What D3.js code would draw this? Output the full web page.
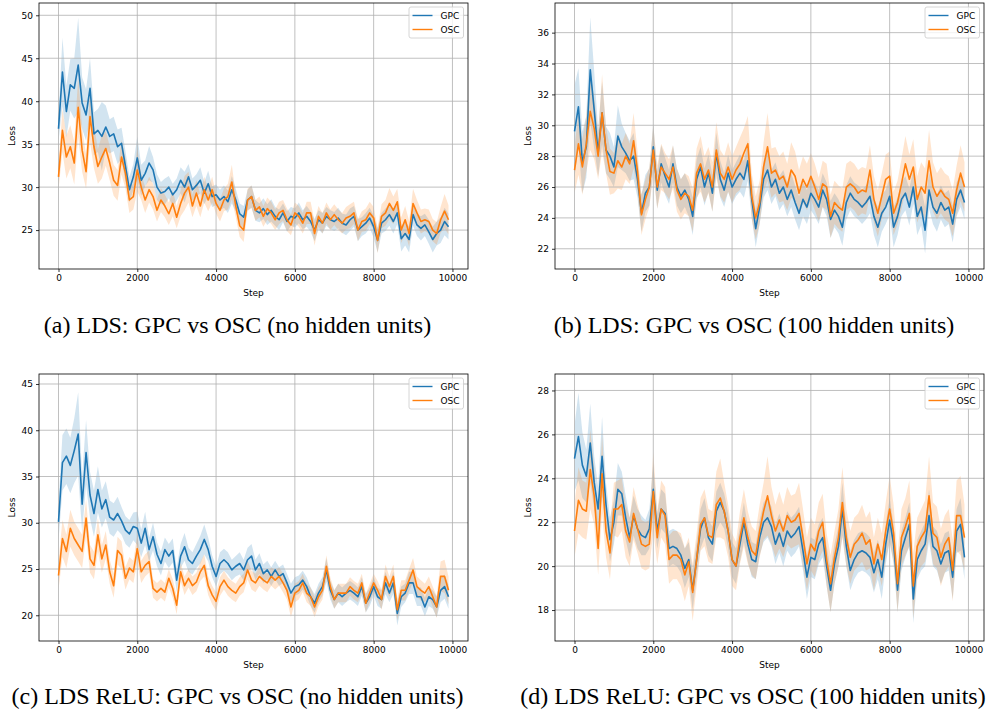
<!DOCTYPE html>
<html>
<head>
<meta charset="utf-8">
<script src="https://cdn.jsdelivr.net/npm/d3@7"></script>
<style>
  body { margin: 0; background: #fff; }
  svg { display: block; }
  .tick text { font-family: "DejaVu Sans", sans-serif; font-size: 9px; fill: #000; }
  .lbl { font-family: "DejaVu Sans", sans-serif; font-size: 9px; fill: #000; }
  .caption { font-family: "Liberation Serif", "Times New Roman", serif; font-size: 24px; fill: #000; }
</style>
</head>
<body>
<svg id="chart" width="986" height="713"></svg>
<script>
// x positions of the samples (one every 100 steps)
const steps = d3.range(0, 10000, 100);
const seriesNames = ["GPC", "OSC"];
const xTicks = [0, 2000, 4000, 6000, 8000, 10000];

// (a) LDS, no hidden units
const gpcA = [
  36.8, 43.4, 38.8, 41.9, 41.5, 44.2, 39.8, 38.4, 41.5, 36.2,
  36.6, 35.9, 37.0, 35.9, 36.2, 34.7, 35.1, 32.4, 29.7, 31.2,
  33.4, 30.8, 31.6, 32.8, 32.0, 30.0, 29.3, 29.5, 30.0, 29.1,
  29.7, 30.8, 30.0, 31.2, 29.7, 30.2, 30.8, 29.3, 30.4, 28.9,
  29.1, 28.5, 28.9, 28.3, 29.7, 28.5, 26.9, 26.5, 28.5, 28.9,
  27.3, 27.0, 27.5, 26.8, 27.3, 26.6, 26.2, 27.0, 26.0, 26.6,
  26.4, 27.0, 26.2, 26.6, 26.0, 25.0, 26.2, 25.8, 26.6, 26.2,
  26.0, 26.4, 25.8, 25.6, 26.2, 26.6, 25.0, 25.4, 25.8, 26.4,
  25.4, 23.8, 25.8, 26.2, 26.8, 26.0, 27.0, 24.0, 24.6, 23.9,
  26.8, 25.6, 25.2, 25.6, 24.8, 23.9, 24.6, 25.0, 26.0, 25.4
];
const oscA = [
  31.2, 36.6, 33.5, 34.7, 32.8, 39.3, 34.3, 31.8, 38.2, 34.7,
  32.4, 33.5, 34.5, 32.8, 30.8, 30.2, 33.5, 31.6, 28.5, 28.9,
  32.0, 30.0, 28.5, 29.7, 28.9, 27.3, 28.5, 27.8, 26.9, 28.1,
  26.5, 28.1, 29.3, 30.0, 27.8, 29.3, 27.8, 29.7, 28.5, 29.7,
  28.1, 27.3, 28.5, 28.9, 30.6, 27.8, 25.5, 25.0, 28.5, 28.9,
  27.3, 27.7, 26.6, 27.5, 27.0, 26.2, 27.0, 27.3, 26.2, 25.6,
  27.0, 26.6, 25.8, 27.0, 27.0, 24.6, 26.6, 25.8, 27.0, 26.2,
  26.8, 26.2, 25.8, 26.4, 26.6, 27.0, 25.0, 26.0, 26.2, 27.0,
  26.4, 23.8, 26.6, 27.0, 28.1, 27.3, 28.3, 25.0, 26.2, 24.6,
  28.1, 27.0, 26.0, 26.2, 26.0, 25.0, 24.6, 26.2, 27.2, 26.2
];
const gpcSdA = [
  1.5, 4.0, 3.0, 3.0, 3.5, 5.5, 3.0, 3.0, 3.5, 2.5,
  2.5, 4.0, 2.5, 2.0, 2.0, 2.0, 1.8, 1.8, 1.5, 1.5,
  2.5, 1.8, 1.5, 2.0, 1.5, 1.5, 1.3, 1.5, 1.3, 1.3,
  1.3, 1.5, 1.8, 1.5, 1.3, 1.3, 1.5, 1.3, 1.5, 1.2,
  1.2, 1.2, 1.3, 1.3, 1.6, 1.3, 1.2, 1.3, 1.2, 1.3,
  1.2, 1.1, 1.2, 1.2, 1.3, 1.1, 1.2, 1.1, 1.2, 1.1,
  1.1, 1.2, 1.1, 1.2, 1.2, 1.3, 1.1, 1.2, 1.1, 1.1,
  1.1, 1.2, 1.1, 1.2, 1.3, 1.2, 1.3, 1.1, 1.2, 1.2,
  1.3, 1.4, 1.2, 1.3, 1.3, 1.4, 1.3, 1.5, 1.4, 1.5,
  1.3, 1.3, 1.4, 1.3, 1.4, 1.5, 1.4, 1.5, 1.6, 1.5
];
const oscSdA = [
  1.5, 2.5, 2.5, 2.5, 2.5, 3.5, 2.5, 2.0, 3.0, 2.5,
  2.0, 2.5, 2.0, 2.0, 1.8, 1.8, 2.0, 1.8, 1.5, 1.5,
  2.5, 1.5, 1.5, 1.5, 1.5, 1.3, 1.4, 1.3, 1.3, 1.5,
  1.3, 1.5, 2.0, 1.8, 1.3, 1.5, 1.3, 1.5, 1.3, 1.5,
  1.2, 1.3, 1.3, 1.5, 2.0, 1.3, 1.3, 1.4, 1.3, 1.3,
  1.2, 1.2, 1.2, 1.3, 1.3, 1.2, 1.3, 1.2, 1.3, 1.2,
  1.2, 1.2, 1.2, 1.3, 1.3, 1.4, 1.2, 1.2, 1.2, 1.2,
  1.2, 1.2, 1.2, 1.3, 1.4, 1.3, 1.3, 1.2, 1.3, 1.3,
  1.3, 1.5, 1.4, 1.5, 1.8, 1.6, 1.5, 1.5, 1.6, 1.5,
  1.7, 1.5, 1.4, 1.3, 1.4, 1.3, 1.3, 1.5, 2.0, 1.7
];

// (b) LDS, 100 hidden units
const gpcB = [
  29.6, 31.2, 27.6, 28.6, 33.6, 31.0, 28.2, 30.8, 28.4, 28.0,
  27.3, 29.3, 28.6, 28.2, 27.7, 28.0, 26.5, 24.3, 25.6, 26.0,
  28.6, 25.8, 27.5, 26.7, 26.0, 27.5, 26.0, 25.4, 25.8, 25.2,
  24.1, 26.5, 27.3, 26.0, 26.9, 25.6, 28.2, 26.5, 25.8, 26.9,
  26.0, 26.5, 26.9, 26.5, 27.7, 25.2, 23.3, 24.7, 26.5, 27.1,
  26.0, 26.5, 25.6, 26.0, 25.2, 25.8, 25.0, 24.3, 25.2, 24.7,
  25.6, 25.2, 24.7, 25.8, 25.2, 23.9, 24.5, 24.1, 23.4, 25.0,
  25.6, 25.2, 25.0, 24.7, 25.0, 25.4, 24.1, 23.4, 24.3, 24.7,
  25.4, 23.4, 24.1, 25.2, 25.6, 24.7, 26.0, 24.1, 24.7, 23.2,
  25.8, 24.7, 24.3, 25.0, 24.5, 24.7, 23.6, 25.2, 25.8, 25.0
];
const oscB = [
  27.1, 28.8, 27.3, 28.8, 30.9, 29.8, 28.0, 30.8, 28.4, 27.0,
  26.9, 27.7, 27.3, 28.0, 27.5, 29.0, 27.0, 24.2, 25.2, 26.0,
  28.4, 26.0, 27.3, 26.9, 26.5, 27.3, 25.8, 25.2, 25.6, 25.4,
  24.5, 26.9, 27.5, 26.5, 27.1, 26.0, 28.4, 26.9, 26.5, 27.3,
  26.5, 27.1, 27.5, 28.2, 28.8, 25.4, 24.0, 25.0, 27.3, 28.6,
  26.9, 27.1, 26.5, 26.7, 26.0, 27.1, 26.7, 25.6, 26.5, 26.0,
  26.7, 26.0, 25.2, 26.2, 26.0, 24.1, 25.0, 24.7, 24.5, 26.0,
  26.2, 26.0, 25.6, 25.8, 25.7, 27.1, 25.2, 24.3, 25.4, 26.5,
  26.7, 24.3, 25.0, 26.2, 27.5, 26.5, 27.3, 25.2, 26.0, 25.6,
  27.7, 26.0, 25.4, 25.8, 25.4, 25.2, 24.3, 25.8, 26.9, 26.0
];
const gpcSdB = [
  3.0, 2.5, 2.0, 2.0, 3.4, 2.5, 1.5, 2.0, 1.5, 1.5,
  1.3, 2.0, 1.5, 1.3, 1.3, 1.5, 1.2, 1.2, 1.2, 1.2,
  1.5, 1.2, 1.2, 1.2, 1.1, 1.2, 1.2, 1.1, 1.1, 1.1,
  1.2, 1.3, 1.3, 1.2, 1.2, 1.2, 1.3, 1.2, 1.1, 1.2,
  1.1, 1.1, 1.2, 1.2, 1.3, 1.2, 1.2, 1.1, 1.2, 1.3,
  1.1, 1.1, 1.1, 1.1, 1.1, 1.1, 1.1, 1.1, 1.1, 1.1,
  1.1, 1.1, 1.1, 1.1, 1.1, 1.2, 1.1, 1.1, 1.2, 1.1,
  1.1, 1.1, 1.1, 1.1, 1.1, 1.1, 1.2, 1.3, 1.2, 1.1,
  1.2, 1.3, 1.2, 1.1, 1.1, 1.2, 1.1, 1.2, 1.2, 1.5,
  1.2, 1.1, 1.2, 1.1, 1.1, 1.1, 1.2, 1.1, 1.1, 1.1
];
const oscSdB = [
  1.5, 2.0, 1.8, 1.8, 2.5, 2.0, 1.5, 2.5, 1.5, 1.5,
  1.3, 1.8, 1.5, 1.5, 1.3, 1.8, 1.3, 1.3, 1.3, 1.3,
  1.6, 1.4, 1.5, 1.3, 1.3, 1.4, 1.4, 1.3, 1.3, 1.3,
  1.4, 1.6, 1.8, 1.5, 1.5, 1.6, 1.8, 1.5, 1.5, 1.6,
  1.5, 1.5, 1.7, 1.6, 1.8, 1.5, 1.4, 1.4, 1.6, 2.2,
  1.6, 1.5, 1.5, 1.6, 1.5, 1.8, 1.6, 1.5, 1.5, 1.5,
  1.5, 1.5, 1.4, 1.5, 1.5, 1.4, 1.4, 1.4, 1.4, 1.5,
  1.5, 1.5, 1.5, 1.5, 1.5, 1.6, 1.5, 1.5, 1.5, 1.6,
  1.6, 1.4, 1.4, 1.6, 1.8, 1.6, 1.8, 1.5, 1.6, 1.6,
  2.0, 1.6, 1.5, 1.5, 1.5, 1.5, 1.5, 1.6, 1.8, 1.6
];

// (c) LDS ReLU, no hidden units
const gpcC = [
  30.1, 36.5, 37.2, 36.2, 37.8, 39.6, 32.0, 37.6, 33.0, 31.0,
  33.6, 31.5, 32.5, 30.6, 30.3, 31.0, 30.2, 29.2, 28.8, 29.6,
  29.4, 27.8, 29.4, 27.1, 28.5, 26.6, 25.6, 27.1, 26.4, 27.0,
  23.8, 26.4, 27.4, 26.0, 25.6, 26.4, 27.1, 28.2, 27.1, 25.3,
  24.2, 25.6, 26.0, 25.6, 24.9, 25.3, 25.6, 24.9, 26.0, 26.4,
  24.9, 25.6, 24.5, 24.9, 24.2, 24.9, 24.2, 24.5, 23.5, 22.4,
  23.1, 23.3, 23.8, 23.1, 22.0, 21.3, 22.4, 23.1, 24.9, 22.7,
  21.7, 22.4, 22.0, 22.4, 22.7, 22.4, 22.0, 23.1, 21.3, 22.0,
  23.1, 22.0, 21.7, 23.5, 22.4, 23.5, 20.2, 22.0, 22.4, 23.5,
  23.5, 22.0, 22.0, 20.9, 22.0, 21.7, 20.9, 22.7, 23.1, 22.0
];
const oscC = [
  24.3, 28.3, 26.9, 29.4, 28.3, 27.6, 26.9, 30.5, 26.1, 25.4,
  28.7, 26.1, 27.6, 24.7, 23.2, 27.0, 26.5, 24.0, 25.1, 24.7,
  27.2, 24.7, 25.4, 25.8, 22.9, 22.5, 22.9, 22.5, 24.0, 22.9,
  21.1, 24.7, 23.2, 24.0, 23.2, 23.6, 24.7, 25.4, 23.2, 22.2,
  21.5, 23.1, 23.8, 23.1, 22.7, 22.4, 23.1, 23.5, 24.9, 23.8,
  23.5, 24.2, 23.8, 23.5, 24.2, 23.8, 24.2, 23.5, 22.7, 20.9,
  22.4, 22.7, 23.5, 22.4, 22.0, 20.9, 22.0, 22.7, 25.3, 23.1,
  21.7, 22.4, 22.4, 22.4, 23.1, 22.7, 22.4, 23.5, 21.3, 22.4,
  23.5, 22.7, 21.7, 24.2, 23.1, 24.2, 20.6, 22.7, 22.7, 23.8,
  24.9, 23.1, 22.7, 22.4, 23.1, 22.0, 20.9, 24.2, 24.2, 22.7
];
const gpcSdC = [
  2.0, 3.0, 3.0, 3.0, 3.5, 4.5, 3.0, 3.5, 2.5, 2.5,
  2.5, 2.0, 2.0, 1.8, 1.8, 1.8, 1.5, 1.5, 1.5, 1.5,
  1.8, 1.5, 1.8, 1.3, 1.5, 1.3, 1.3, 1.3, 1.3, 1.3,
  1.3, 1.3, 1.5, 1.3, 1.2, 1.3, 1.5, 1.6, 1.3, 1.2,
  1.1, 1.2, 1.2, 1.2, 1.1, 1.1, 1.2, 1.1, 1.3, 1.3,
  1.1, 1.1, 1.0, 1.0, 1.0, 1.0, 1.0, 1.0, 1.0, 1.0,
  1.0, 1.0, 1.0, 1.0, 1.0, 1.0, 1.0, 1.0, 1.3, 1.0,
  1.0, 1.0, 1.0, 1.0, 1.0, 1.0, 1.0, 1.0, 1.0, 1.0,
  1.0, 1.0, 1.0, 1.2, 1.0, 1.2, 1.3, 1.1, 1.0, 1.2,
  1.2, 1.0, 1.0, 1.0, 1.0, 1.0, 1.1, 1.3, 1.3, 1.3
];
const oscSdC = [
  1.5, 2.0, 1.8, 2.0, 1.8, 1.8, 1.8, 2.0, 1.5, 1.5,
  1.8, 1.5, 1.5, 1.3, 1.3, 1.5, 1.5, 1.2, 1.2, 1.2,
  1.5, 1.2, 1.2, 1.2, 1.0, 1.0, 1.0, 1.0, 1.0, 1.0,
  1.0, 1.0, 1.0, 1.0, 1.0, 1.0, 1.0, 1.2, 1.0, 1.0,
  1.0, 1.0, 1.0, 1.0, 1.0, 1.0, 1.0, 1.0, 1.0, 1.0,
  1.0, 1.0, 1.0, 1.0, 1.0, 1.0, 1.0, 1.0, 1.0, 1.1,
  1.0, 1.0, 1.0, 1.0, 1.0, 1.1, 1.0, 1.0, 1.2, 1.0,
  1.0, 1.0, 1.0, 1.0, 1.0, 1.0, 1.0, 1.0, 1.0, 1.0,
  1.0, 1.0, 1.1, 1.3, 1.1, 1.3, 1.2, 1.1, 1.1, 1.2,
  1.3, 1.1, 1.1, 1.0, 1.1, 1.1, 1.2, 1.6, 1.8, 1.5
];

// (d) LDS ReLU, 100 hidden units
const gpcD = [
  24.9, 25.9, 24.6, 24.1, 25.6, 23.8, 22.6, 25.0, 22.8, 21.2,
  22.0, 23.5, 23.3, 22.2, 21.3, 22.3, 21.7, 21.4, 21.3, 21.7,
  23.5, 21.6, 22.6, 22.4, 20.8, 20.9, 20.8, 20.5, 19.9, 20.3,
  18.9, 20.3, 21.7, 22.2, 21.3, 21.0, 22.5, 22.9, 22.5, 21.6,
  20.3, 20.0, 21.0, 22.0, 21.0, 20.3, 20.2, 21.3, 22.0, 22.2,
  21.8, 21.0, 21.5, 20.9, 21.6, 21.3, 21.5, 21.8, 20.7, 19.5,
  20.4, 20.3, 21.0, 21.3, 20.0, 18.9, 20.1, 20.9, 22.6, 20.9,
  19.8, 20.3, 20.6, 20.7, 20.6, 20.4, 19.7, 20.3, 19.5, 21.0,
  22.1, 21.0, 18.9, 20.7, 21.3, 21.9, 18.5, 20.3, 20.7, 21.0,
  22.3, 20.9, 20.7, 20.1, 20.6, 20.7, 19.5, 21.6, 21.9, 20.4
];
const oscD = [
  21.6, 23.0, 22.6, 22.5, 24.4, 23.2, 20.8, 24.2, 21.6, 20.6,
  22.6, 22.6, 22.8, 21.6, 21.1, 22.4, 21.7, 21.0, 20.9, 21.0,
  23.4, 21.3, 22.6, 22.3, 20.3, 20.5, 20.5, 20.3, 19.6, 20.2,
  18.8, 20.3, 21.9, 22.2, 21.4, 21.3, 22.8, 23.1, 22.5, 21.6,
  20.3, 20.0, 21.3, 22.2, 21.3, 20.7, 20.5, 21.6, 22.5, 23.2,
  22.3, 21.6, 22.1, 21.6, 22.3, 22.0, 22.1, 22.4, 21.3, 20.1,
  21.0, 20.7, 21.6, 22.0, 20.3, 19.2, 20.4, 21.3, 22.9, 21.3,
  20.4, 21.0, 21.2, 21.5, 21.0, 21.2, 20.1, 21.0, 20.3, 21.6,
  22.6, 21.5, 19.2, 21.3, 21.8, 22.4, 19.1, 20.9, 21.3, 21.6,
  23.2, 21.5, 21.3, 20.4, 21.0, 21.3, 19.8, 22.3, 22.3, 21.3
];
const gpcSdD = [
  1.5, 2.0, 1.5, 1.2, 1.8, 1.2, 1.0, 1.8, 1.0, 1.0,
  1.0, 1.2, 1.0, 1.0, 0.9, 0.9, 0.9, 0.9, 0.8, 0.9,
  1.2, 0.8, 0.9, 0.9, 0.8, 0.8, 0.8, 0.8, 0.9, 0.8,
  0.9, 0.8, 0.9, 0.9, 0.8, 0.8, 0.9, 0.9, 0.8, 0.8,
  0.8, 0.8, 0.8, 0.9, 0.8, 0.8, 0.8, 0.8, 0.9, 0.9,
  0.9, 0.9, 0.9, 0.9, 0.9, 0.9, 0.9, 0.9, 0.9, 1.0,
  0.9, 0.9, 0.9, 0.9, 0.9, 1.0, 0.9, 0.9, 1.2, 0.9,
  0.9, 0.9, 0.9, 0.9, 0.9, 0.9, 0.9, 0.9, 1.0, 0.9,
  1.0, 0.9, 1.0, 0.9, 0.9, 1.0, 1.1, 0.9, 0.9, 1.0,
  1.2, 0.9, 0.9, 0.9, 0.9, 0.9, 1.0, 1.0, 1.2, 1.0
];
const oscSdD = [
  1.2, 1.5, 1.3, 1.3, 1.8, 1.3, 1.2, 1.8, 1.2, 1.2,
  1.2, 1.3, 1.2, 1.2, 1.1, 1.2, 1.1, 1.1, 1.1, 1.1,
  1.8, 1.2, 1.3, 1.3, 1.1, 1.1, 1.1, 1.2, 1.2, 1.1,
  1.3, 1.2, 1.2, 1.3, 1.2, 1.2, 1.5, 1.8, 1.3, 1.2,
  1.2, 1.1, 1.2, 1.3, 1.2, 1.1, 1.1, 1.2, 1.3, 1.8,
  1.3, 1.2, 1.3, 1.2, 1.3, 1.2, 1.2, 1.4, 1.3, 1.2,
  1.2, 1.2, 1.3, 1.3, 1.2, 1.3, 1.2, 1.3, 1.6, 1.3,
  1.2, 1.2, 1.2, 1.3, 1.2, 1.3, 1.2, 1.2, 1.2, 1.3,
  1.5, 1.3, 1.3, 1.3, 1.3, 1.5, 1.5, 1.3, 1.3, 1.4,
  1.8, 1.4, 1.4, 1.3, 1.3, 1.3, 1.4, 1.6, 1.8, 1.5
];

const colors = ["#1f77b4", "#ff7f0e"];

// layout of the four subplots (pixel boxes of the axes frames)
const panels = [
  { caption: "(a) LDS: GPC vs OSC (no hidden units)", means: [gpcA, oscA], sds: [gpcSdA, oscSdA],
    yDomain: [20.47, 51.43], yTicks: [25, 30, 35, 40, 45, 50],
    x0: 39, y0: 3, x1: 468, y1: 269, capX: 237.5, capY: 333 },
  { caption: "(b) LDS: GPC vs OSC (100 hidden units)", means: [gpcB, oscB], sds: [gpcSdB, oscSdB],
    yDomain: [20.69, 37.92], yTicks: [22, 24, 26, 28, 30, 32, 34, 36],
    x0: 555, y0: 3, x1: 984, y1: 269, capX: 754, capY: 333 },
  { caption: "(c) LDS ReLU: GPC vs OSC (no hidden units)", means: [gpcC, oscC], sds: [gpcSdC, oscSdC],
    yDomain: [17.22, 46.08], yTicks: [20, 25, 30, 35, 40, 45],
    x0: 39, y0: 374, x1: 468, y1: 641, capX: 237.5, capY: 704 },
  { caption: "(d) LDS ReLU: GPC vs OSC (100 hidden units)", means: [gpcD, oscD], sds: [gpcSdD, oscSdD],
    yDomain: [16.59, 28.75], yTicks: [18, 20, 22, 24, 26, 28],
    x0: 555, y0: 374, x1: 984, y1: 641, capX: 753, capY: 704 }
];

const svg = d3.select("#chart");

panels.forEach((p, pi) => {
  const x = d3.scaleLinear().domain([-495, 10395]).range([p.x0, p.x1]);
  const y = d3.scaleLinear().domain(p.yDomain).range([p.y1, p.y0]);
  const g = svg.append("g");

  const clipId = "clip" + pi;
  g.append("clipPath").attr("id", clipId)
    .append("rect")
    .attr("x", p.x0).attr("y", p.y0)
    .attr("width", p.x1 - p.x0).attr("height", p.y1 - p.y0);

  const plot = g.append("g").attr("clip-path", `url(#${clipId})`);

  // shaded bands first (they sit under the grid)
  seriesNames.forEach((name, si) => {
    const mean = p.means[si], sd = p.sds[si];
    const area = d3.area()
      .x((d, i) => x(steps[i]))
      .y0((d, i) => y(mean[i] - sd[i]))
      .y1((d, i) => y(mean[i] + sd[i]));
    plot.append("path")
      .datum(mean)
      .attr("d", area)
      .attr("fill", colors[si])
      .attr("fill-opacity", 0.2);
  });

  // grid
  plot.selectAll("line.gx").data(xTicks).join("line")
    .attr("class", "gx")
    .attr("x1", d => x(d)).attr("x2", d => x(d))
    .attr("y1", p.y0).attr("y2", p.y1)
    .attr("stroke", "#b0b0b0").attr("stroke-width", 0.8);
  plot.selectAll("line.gy").data(p.yTicks).join("line")
    .attr("class", "gy")
    .attr("x1", p.x0).attr("x2", p.x1)
    .attr("y1", d => y(d)).attr("y2", d => y(d))
    .attr("stroke", "#b0b0b0").attr("stroke-width", 0.8);

  // mean lines
  seriesNames.forEach((name, si) => {
    const line = d3.line()
      .x((d, i) => x(steps[i]))
      .y(d => y(d));
    plot.append("path")
      .datum(p.means[si])
      .attr("d", line)
      .attr("fill", "none")
      .attr("stroke", colors[si])
      .attr("stroke-width", 1.6)
      .attr("stroke-linejoin", "round");
  });

  // frame
  g.append("rect")
    .attr("x", p.x0).attr("y", p.y0)
    .attr("width", p.x1 - p.x0).attr("height", p.y1 - p.y0)
    .attr("fill", "none").attr("stroke", "#000").attr("stroke-width", 0.8);

  // axes
  const xAxis = g.append("g")
    .attr("transform", `translate(0,${p.y1})`)
    .call(d3.axisBottom(x).tickValues(xTicks).tickFormat(d3.format("d")).tickSize(3).tickPadding(3));
  const yAxis = g.append("g")
    .attr("transform", `translate(${p.x0},0)`)
    .call(d3.axisLeft(y).tickValues(p.yTicks).tickFormat(d3.format("d")).tickSize(3).tickPadding(3));
  [xAxis, yAxis].forEach(a => {
    a.select(".domain").remove();
    a.selectAll(".tick line").attr("stroke", "#000").attr("stroke-width", 0.8);
  });

  g.append("text").attr("class", "lbl")
    .attr("x", (p.x0 + p.x1) / 2).attr("y", p.y1 + 27)
    .attr("text-anchor", "middle").text("Step");
  g.append("text").attr("class", "lbl")
    .attr("transform", `translate(${p.x0 - 24},${(p.y0 + p.y1) / 2}) rotate(-90)`)
    .attr("text-anchor", "middle").text("Loss");

  // legend
  const lx = p.x1 - 59, ly = p.y0 + 4;
  const leg = g.append("g").attr("transform", `translate(${lx},${ly})`);
  leg.append("rect")
    .attr("width", 54.5).attr("height", 31).attr("rx", 2)
    .attr("fill", "#fff").attr("fill-opacity", 0.8)
    .attr("stroke", "#cccccc").attr("stroke-width", 0.8);
  seriesNames.forEach((name, si) => {
    const yy = 8.5 + si * 14;
    leg.append("line")
      .attr("x1", 3.5).attr("x2", 23.5).attr("y1", yy).attr("y2", yy)
      .attr("stroke", colors[si]).attr("stroke-width", 1.4);
    leg.append("text").attr("class", "lbl")
      .attr("x", 31.5).attr("y", yy + 3.2).text(name);
  });

  // caption under the subplot
  svg.append("text").attr("class", "caption")
    .attr("x", p.capX).attr("y", p.capY)
    .attr("text-anchor", "middle").text(p.caption);
});
</script>
</body>
</html>
